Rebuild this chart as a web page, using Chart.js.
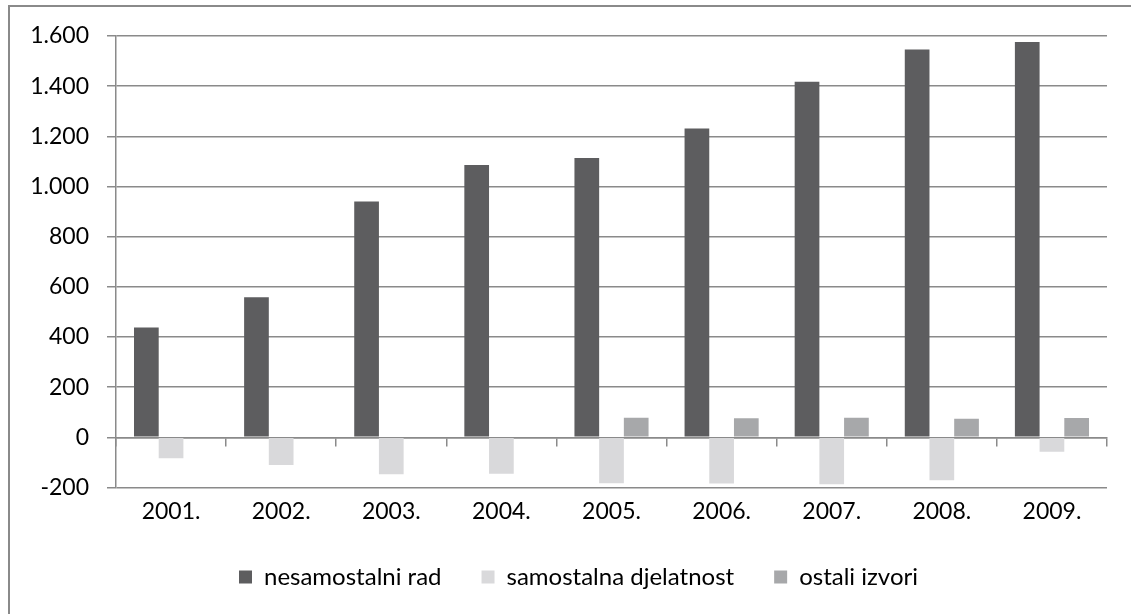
<!DOCTYPE html>
<html>
<head>
<meta charset="utf-8">
<script src="https://cdn.jsdelivr.net/npm/chart.js@4.4.1/dist/chart.umd.min.js"></script>
<style>
  html, body { margin: 0; padding: 0; background: #fff; }
  #wrap { position: relative; width: 1131px; height: 614px; overflow: hidden; }
  #frame { position: absolute; left: 8px; top: 5px; width: 1200px; height: 700px;
           border-left: 2px solid #8a8a8a; border-top: 2px solid #8a8a8a; box-sizing: border-box; }
  canvas { position: absolute; left: 0; top: 0; }
</style>
</head>
<body>
<div id="wrap">
  <div id="frame"></div>
  <canvas id="c" width="1131" height="614"></canvas>
</div>
<script>
const categories = ['2001.', '2002.', '2003.', '2004.', '2005.', '2006.', '2007.', '2008.', '2009.'];
const seriesNames = ['nesamostalni rad', 'samostalna djelatnost', 'ostali izvori'];
const nesamostalniRad = [438, 558, 940, 1086, 1114, 1231, 1418, 1546, 1576];
const samostalnaDjelatnost = [-83, -110, -147, -145, -183, -184, -187, -171, -57];
const ostaliIzvori = [null, null, null, null, 78, 76, 78, 74, 77];
const yMin = -200, yMax = 1600, yStep = 200;

const FONT = 'Lato';
const gridColor = '#8a8a8a';

function fmt(v) {
  const s = Math.abs(v).toString().replace(/\B(?=(\d{3})+(?!\d))/g, '.');
  return (v < 0 ? '-' : '') + s;
}

const legendShift = {
  id: 'legendShift',
  afterLayout(chart) {
    const lg = chart.legend;
    if (lg) { lg.left += 25; lg.right += 25; }
  }
};

new Chart(document.getElementById('c'), {
  type: 'bar',
  data: {
    labels: categories,
    datasets: [
      { label: seriesNames[0], data: nesamostalniRad, backgroundColor: '#5d5d5f' },
      { label: seriesNames[1], data: samostalnaDjelatnost, backgroundColor: '#d9d9db' },
      { label: seriesNames[2], data: ostaliIzvori, backgroundColor: '#a7a8aa' }
    ]
  },
  plugins: [legendShift],
  options: {
    responsive: false,
    animation: false,
    devicePixelRatio: 1,
    layout: { padding: { left: 0, right: 24, top: 36, bottom: 15 } },
    datasets: { bar: { categoryPercentage: 0.673, barPercentage: 1.0, borderWidth: 0 } },
    plugins: {
      tooltip: { enabled: false },
      legend: {
        position: 'bottom',
        labels: {
          font: { family: FONT, size: 24 },
          color: '#000',
          boxWidth: 13, boxHeight: 13,
          padding: 40
        }
      }
    },
    scales: {
      x: {
        grid: { display: false, drawTicks: false },
        border: { display: false },
        ticks: { font: { family: FONT, size: 23 }, color: '#000', padding: 10 },
        afterFit: (s) => { s.height = 37.5; }
      },
      x0: {
        type: 'category',
        position: { y: 0 },
        offset: true,
        grid: { display: true, drawOnChartArea: false, drawTicks: true, tickLength: 8, color: gridColor, lineWidth: 1.5, offset: true },
        border: { display: true, color: gridColor, width: 1.5 },
        ticks: { display: false }
      },
      y: {
        min: yMin, max: yMax,
        ticks: { stepSize: yStep, font: { family: FONT, size: 23 }, color: '#000', padding: 18,
                 callback: (v) => fmt(v) },
        grid: { color: gridColor, lineWidth: 1.5, tickLength: 9 },
        border: { display: true, color: gridColor, width: 1.5 },
        afterFit: (s) => { s.width = 116; }
      }
    }
  }
});
</script>
</body>
</html>
